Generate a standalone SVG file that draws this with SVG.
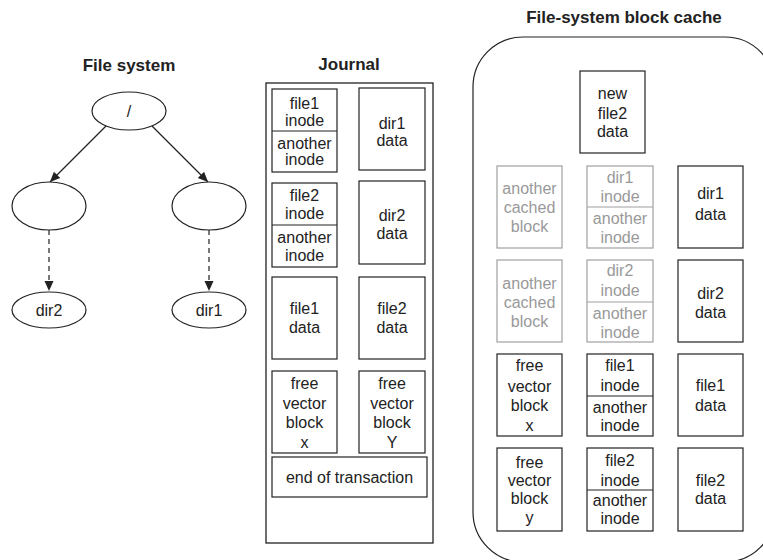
<svg xmlns="http://www.w3.org/2000/svg" width="763" height="560" viewBox="0 0 763 560">
<defs>
<style>
text{font-family:"Liberation Sans",Arial,sans-serif;font-size:16px;fill:#222;text-anchor:middle}
.t{font-weight:bold;font-size:17px}
.g{fill:#999}
.b{fill:#fff;stroke:#222;stroke-width:1.2}
.gb{fill:#fff;stroke:#a0a0a0;stroke-width:1.2}
.l{stroke:#222;stroke-width:1.2}
.gl{stroke:#a0a0a0;stroke-width:1.2}
.e{fill:#fff;stroke:#222;stroke-width:1.2}
.c{fill:none;stroke:#222;stroke-width:1.2}
.d{stroke-dasharray:5 4}
</style>
<marker id="ah" viewBox="0 0 10 10" refX="10" refY="5" markerWidth="10" markerHeight="10" markerUnits="userSpaceOnUse" orient="auto">
<path d="M0,0.5 L10,5 L0,9.5 Z" fill="#222"/>
</marker>
</defs>
<rect width="763" height="560" fill="#fff"/>

<!-- Titles -->
<text class="t" x="129" y="71">File system</text>
<text class="t" x="349" y="70">Journal</text>
<text class="t" x="624" y="23">File-system block cache</text>

<!-- File system tree -->
<g id="connectors">
<line class="c" x1="106" y1="126" x2="50" y2="182" marker-end="url(#ah)"/>
<line class="c" x1="152" y1="126" x2="208" y2="182" marker-end="url(#ah)"/>
<line class="c d" x1="49" y1="230" x2="49" y2="291" marker-end="url(#ah)"/>
<line class="c d" x1="209" y1="230" x2="209" y2="291" marker-end="url(#ah)"/>
</g>
<g id="root"><ellipse class="e" cx="129" cy="111" rx="37" ry="19"/><text x="129" y="117">/</text></g>
<g id="node-left"><ellipse class="e" cx="49" cy="206" rx="37" ry="24"/></g>
<g id="node-right"><ellipse class="e" cx="209" cy="206" rx="37" ry="24"/></g>
<g id="dir2"><ellipse class="e" cx="49" cy="310" rx="37" ry="18"/><text x="49" y="316">dir2</text></g>
<g id="dir1"><ellipse class="e" cx="209" cy="310" rx="37" ry="18"/><text x="209" y="316">dir1</text></g>

<!-- Journal -->
<g id="journal">
<rect x="266" y="83" width="167" height="460" fill="#fff" stroke="#222" stroke-width="1.3"/>
<g id="j-file1-inode">
<rect class="b" x="272" y="89" width="65" height="83"/>
<line class="l" x1="272" y1="131" x2="337" y2="131"/>
<text x="304.5" y="109">file1</text><text x="304.5" y="126">inode</text>
<text x="304.5" y="149">another</text><text x="304.5" y="165">inode</text>
</g>
<g id="j-dir1-data">
<rect class="b" x="359" y="88" width="66" height="82"/>
<text x="392" y="129">dir1</text><text x="392" y="146">data</text>
</g>
<g id="j-file2-inode">
<rect class="b" x="272" y="183" width="65" height="84"/>
<line class="l" x1="272" y1="225" x2="337" y2="225"/>
<text x="304.5" y="201">file2</text><text x="304.5" y="219">inode</text>
<text x="304.5" y="243">another</text><text x="304.5" y="261">inode</text>
</g>
<g id="j-dir2-data">
<rect class="b" x="359" y="181" width="66" height="83"/>
<text x="392" y="221">dir2</text><text x="392" y="239">data</text>
</g>
<g id="j-file1-data">
<rect class="b" x="272" y="277" width="65" height="82"/>
<text x="304.5" y="314">file1</text><text x="304.5" y="333">data</text>
</g>
<g id="j-file2-data">
<rect class="b" x="359" y="277" width="66" height="82"/>
<text x="392" y="314">file2</text><text x="392" y="333">data</text>
</g>
<g id="j-fvb-x">
<rect class="b" x="272" y="371" width="65" height="82"/>
<text x="304.5" y="389">free</text><text x="304.5" y="409">vector</text><text x="304.5" y="428">block</text><text x="304.5" y="448">x</text>
</g>
<g id="j-fvb-y">
<rect class="b" x="359" y="371" width="66" height="82"/>
<text x="392" y="389">free</text><text x="392" y="409">vector</text><text x="392" y="428">block</text><text x="392" y="448">Y</text>
</g>
<g id="j-eot">
<rect class="b" x="272" y="457" width="155" height="40"/>
<text x="349.5" y="483">end of transaction</text>
</g>
</g>

<!-- Cache -->
<g id="cache">
<rect x="473" y="37" width="302" height="525" rx="50" ry="50" fill="#fff" stroke="#222" stroke-width="1.2"/>
<g id="c-new-file2">
<rect class="b" x="580" y="71" width="65" height="82"/>
<text x="612.5" y="99">new</text><text x="612.5" y="119">file2</text><text x="612.5" y="137">data</text>
</g>
<g id="c-acb1">
<rect class="gb" x="497" y="166" width="65" height="82"/>
<text class="g" x="529.5" y="194">another</text><text class="g" x="529.5" y="213">cached</text><text class="g" x="529.5" y="232">block</text>
</g>
<g id="c-dir1-inode">
<rect class="gb" x="587" y="166" width="66" height="82"/>
<line class="gl" x1="587" y1="207" x2="653" y2="207"/>
<text class="g" x="620" y="183">dir1</text><text class="g" x="620" y="202">inode</text>
<text class="g" x="620" y="224">another</text><text class="g" x="620" y="243">inode</text>
</g>
<g id="c-dir1-data">
<rect class="b" x="678" y="166" width="65" height="82"/>
<text x="710.5" y="199">dir1</text><text x="710.5" y="220">data</text>
</g>
<g id="c-acb2">
<rect class="gb" x="497" y="260" width="65" height="82"/>
<text class="g" x="529.5" y="289">another</text><text class="g" x="529.5" y="308">cached</text><text class="g" x="529.5" y="327">block</text>
</g>
<g id="c-dir2-inode">
<rect class="gb" x="587" y="260" width="66" height="82"/>
<line class="gl" x1="587" y1="302" x2="653" y2="302"/>
<text class="g" x="620" y="276">dir2</text><text class="g" x="620" y="296">inode</text>
<text class="g" x="620" y="319">another</text><text class="g" x="620" y="338">inode</text>
</g>
<g id="c-dir2-data">
<rect class="b" x="678" y="260" width="65" height="82"/>
<text x="710.5" y="299">dir2</text><text x="710.5" y="318">data</text>
</g>
<g id="c-fvb-x">
<rect class="b" x="497" y="354" width="65" height="82"/>
<text x="529.5" y="371">free</text><text x="529.5" y="392">vector</text><text x="529.5" y="411">block</text><text x="529.5" y="431">x</text>
</g>
<g id="c-file1-inode">
<rect class="b" x="587" y="354" width="66" height="82"/>
<line class="l" x1="587" y1="396" x2="653" y2="396"/>
<text x="620" y="371">file1</text><text x="620" y="391">inode</text>
<text x="620" y="413">another</text><text x="620" y="431">inode</text>
</g>
<g id="c-file1-data">
<rect class="b" x="678" y="354" width="65" height="82"/>
<text x="710.5" y="391">file1</text><text x="710.5" y="411">data</text>
</g>
<g id="c-fvb-y">
<rect class="b" x="497" y="448" width="65" height="83"/>
<text x="529.5" y="468">free</text><text x="529.5" y="486">vector</text><text x="529.5" y="504">block</text><text x="529.5" y="523">y</text>
</g>
<g id="c-file2-inode">
<rect class="b" x="587" y="448" width="66" height="83"/>
<line class="l" x1="587" y1="490" x2="653" y2="490"/>
<text x="620" y="466">file2</text><text x="620" y="486">inode</text>
<text x="620" y="506">another</text><text x="620" y="524">inode</text>
</g>
<g id="c-file2-data">
<rect class="b" x="678" y="448" width="65" height="83"/>
<text x="710.5" y="486">file2</text><text x="710.5" y="504">data</text>
</g>
</g>
</svg>
